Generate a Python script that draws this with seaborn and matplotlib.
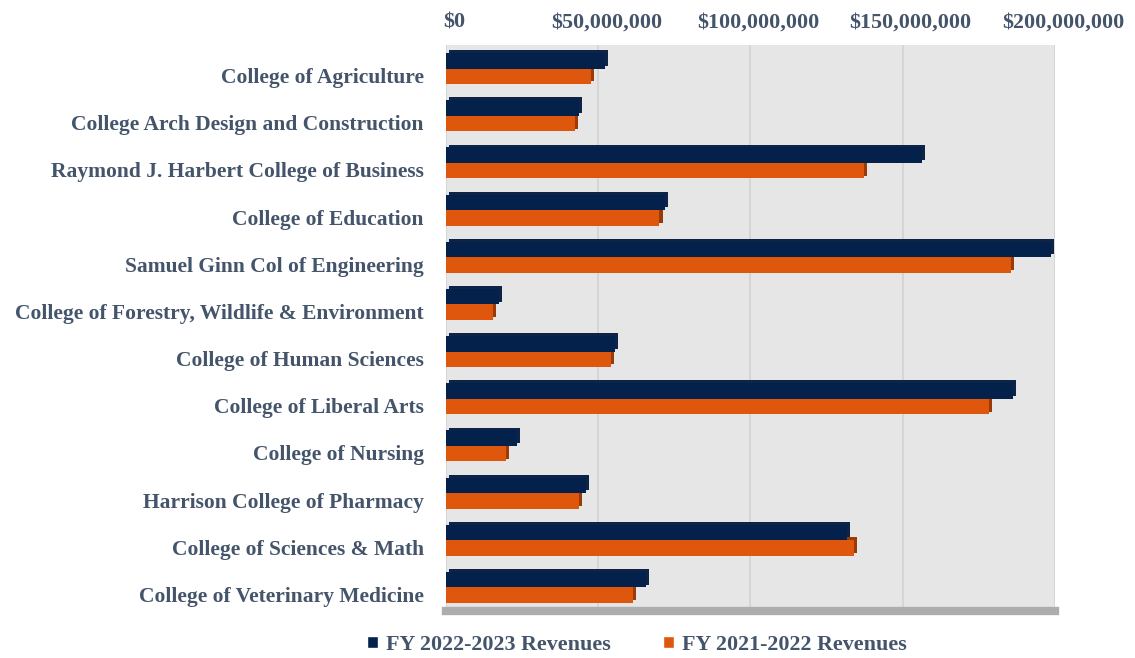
import matplotlib
matplotlib.use("Agg")
import matplotlib.pyplot as plt
import matplotlib.patheffects as pe
from matplotlib.transforms import ScaledTranslation
from matplotlib.patches import Patch
from matplotlib.ticker import FuncFormatter
import seaborn as sns
import pandas as pd

colleges = [
    "College of Agriculture",
    "College Arch Design and Construction",
    "Raymond J. Harbert College of Business",
    "College of Education",
    "Samuel Ginn Col of Engineering",
    "College of Forestry, Wildlife & Environment",
    "College of Human Sciences",
    "College of Liberal Arts",
    "College of Nursing",
    "Harrison College of Pharmacy",
    "College of Sciences & Math",
    "College of Veterinary Medicine",
]
series_names = ["FY 2022-2023 Revenues", "FY 2021-2022 Revenues"]
fy2023_m = [52.1, 43.8, 156.3, 71.8, 198.7, 17.3, 55.5, 186.3, 23.2, 45.9, 131.6, 65.6]
fy2022_m = [47.5, 42.3, 137.2, 70.1, 185.5, 15.5, 54.3, 178.2, 19.6, 43.8, 134.1, 61.5]
xticks = [0, 50_000_000, 100_000_000, 150_000_000, 200_000_000]

navy = "#03214A"
orange = "#DF570D"
navy_dark = "#0E2447"
orange_dark = "#9A3A07"
text_color = "#44546A"

rows = []
for c, a, b in zip(colleges, fy2023_m, fy2022_m):
    rows.append({"college": c, "series": series_names[0], "value": a * 1e6})
    rows.append({"college": c, "series": series_names[1], "value": b * 1e6})
df = pd.DataFrame(rows)

sns.set_style("white")
plt.rcParams["font.family"] = ["Liberation Serif", "DejaVu Serif"]

W, H = 1135, 658
fig = plt.figure(figsize=(W / 100, H / 100), dpi=100)
left, right, top, bottom = 446, 1055, 45, 611
ax = fig.add_axes([left / W, 1 - bottom / H, (right - left) / W, (bottom - top) / H])

sns.barplot(data=df, y="college", x="value", hue="series", orient="h",
            order=colleges, hue_order=series_names,
            palette=[navy, orange], width=0.66, saturation=1,
            legend=False, ax=ax)

for p in ax.patches:
    fc = p.get_facecolor()
    is_navy = fc[2] > fc[0]
    p.set_zorder(3 if is_navy else 2)
    p.set_linewidth(0)
    p.set_path_effects([
        pe.SimplePatchShadow(offset=(2.2, 2.0),
                             shadow_rgbFace=navy_dark if is_navy else orange_dark,
                             alpha=1.0),
        pe.Normal(),
    ])

ax.set_facecolor("#E6E6E6")
ax.set_xlim(0, 200_000_000)
ax.set_ylim(len(colleges) - 0.5, -0.5)
ax.set_xticks(xticks)
ax.xaxis.set_major_formatter(FuncFormatter(lambda v, _: f"${v:,.0f}"))
ax.xaxis.tick_top()
ax.tick_params(axis="x", length=0, pad=9, labelsize=15.8, labelcolor=text_color)
ax.tick_params(axis="y", length=0, pad=16, labelsize=15.5, labelcolor=text_color)
for lab in ax.get_xticklabels() + ax.get_yticklabels():
    lab.set_fontweight("bold")
for lab in ax.get_xticklabels():
    lab.set_transform(lab.get_transform() + ScaledTranslation(0.08, 0, fig.dpi_scale_trans))
for lab in ax.get_yticklabels():
    lab.set_transform(lab.get_transform() + ScaledTranslation(0, -0.07, fig.dpi_scale_trans))

ax.grid(axis="x", color="#D2D2D2", linewidth=1.2)
ax.grid(axis="y", visible=False)
ax.set_axisbelow(True)
ax.set_xlabel("")
ax.set_ylabel("")
for s in ["top", "left", "right"]:
    ax.spines[s].set_visible(False)
ax.spines["bottom"].set_color("#ADADAD")
ax.spines["bottom"].set_linewidth(6)

handles = [Patch(facecolor=navy, label=series_names[0]),
           Patch(facecolor=orange, label=series_names[1])]
leg = fig.legend(handles=handles, loc="center", bbox_to_anchor=(0.561, 0.02),
                 ncol=2, frameon=False, handlelength=0.5, handleheight=0.5,
                 handletextpad=0.35, columnspacing=2.4,
                 prop={"size": 15.8, "weight": "bold"})
for t in leg.get_texts():
    t.set_color(text_color)

fig.savefig("out.png", dpi=100, facecolor="white")
